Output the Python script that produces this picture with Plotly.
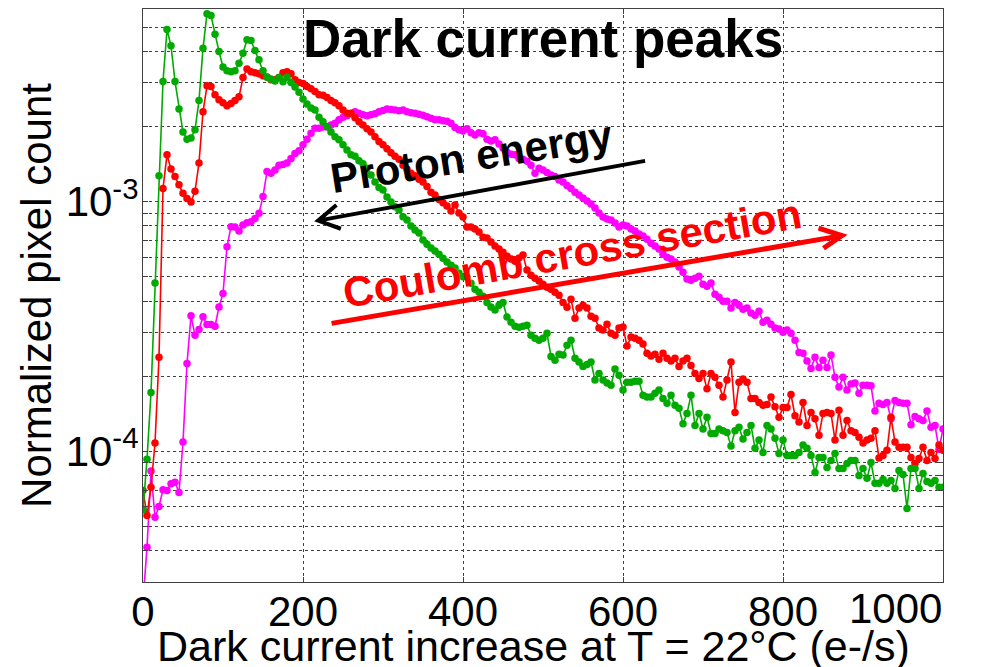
import plotly.graph_objects as go

# Dark current bins (e-/s), one sample every 5 e-/s
x_vals = list(range(0, 1001, 5))

green = [5.84e-5, 9.3e-5, 1.72e-4, 4.72e-4, 1.27e-3, 3.03e-3, 4.89e-3, 4.21e-3, 3.03e-3, 2.35e-3,
         1.90e-3, 1.78e-3, 1.80e-3, 1.94e-3, 2.54e-3, 4.11e-3, 5.66e-3, 5.56e-3, 4.68e-3, 3.99e-3,
         3.46e-3, 3.34e-3, 3.31e-3, 3.34e-3, 3.58e-3, 3.93e-3, 4.45e-3, 4.42e-3, 4.03e-3, 3.70e-3,
         3.34e-3, 3.15e-3, 3.10e-3, 3.04e-3, 3.14e-3, 3.02e-3, 3.15e-3, 3.00e-3, 2.88e-3, 2.74e-3,
         2.58e-3, 2.46e-3, 2.37e-3, 2.33e-3, 2.18e-3, 2.09e-3, 2.00e-3, 1.90e-3, 1.82e-3, 1.77e-3,
         1.69e-3, 1.61e-3, 1.54e-3, 1.52e-3, 1.46e-3, 1.42e-3, 1.36e-3, 1.28e-3, 1.20e-3, 1.14e-3,
         1.114e-3, 1.045e-3, 9.97e-4, 9.55e-4, 9.26e-4, 8.70e-4, 8.44e-4, 7.99e-4, 7.70e-4, 7.49e-4,
         7.02e-4, 6.76e-4, 6.52e-4, 6.34e-4, 6.16e-4, 5.93e-4, 5.73e-4, 5.57e-4, 5.42e-4, 5.17e-4,
         5.00e-4, 4.99e-4, 4.71e-4, 4.46e-4, 4.34e-4, 4.18e-4, 3.95e-4, 3.79e-4, 3.68e-4, 3.85e-4,
         3.95e-4, 3.45e-4, 3.29e-4, 3.17e-4, 3.14e-4, 3.17e-4, 3.20e-4, 2.92e-4, 2.84e-4, 2.79e-4,
         2.84e-4, 2.97e-4, 2.40e-4, 2.32e-4, 2.45e-4, 2.43e-4, 2.66e-4, 2.79e-4, 2.36e-4, 2.28e-4,
         2.19e-4, 2.23e-4, 2.28e-4, 1.93e-4, 2.05e-4, 1.93e-4, 1.88e-4, 1.84e-4, 2.14e-4, 2.02e-4,
         1.76e-4, 1.89e-4, 1.89e-4, 1.91e-4, 1.91e-4, 1.68e-4, 1.65e-4, 1.65e-4, 1.71e-4, 1.76e-4,
         1.63e-4, 1.56e-4, 1.68e-4, 1.53e-4, 1.49e-4, 1.29e-4, 1.42e-4, 1.68e-4, 1.27e-4, 1.42e-4,
         1.23e-4, 1.37e-4, 1.18e-4, 1.18e-4, 1.23e-4, 1.21e-4, 1.19e-4, 1.05e-4, 1.21e-4, 1.25e-4,
         1.12e-4, 1.19e-4, 1.27e-4, 1.03e-4, 1.11e-4, 9.9e-5, 1.27e-4, 1.23e-4, 1.13e-4, 9.8e-5,
         1.11e-4, 9.64e-5, 9.64e-5, 9.64e-5, 9.9e-5, 1.06e-4, 1.03e-4, 9.64e-5, 8.24e-5, 9.46e-5,
         9.46e-5, 8.63e-5, 9.20e-5, 9.82e-5, 8.55e-5, 8.55e-5, 8.95e-5, 9.20e-5, 9.20e-5, 8.01e-5,
         8.55e-5, 7.80e-5, 9.03e-5, 7.45e-5, 7.45e-5, 7.72e-5, 7.45e-5, 7.65e-5, 7.11e-5, 8.39e-5,
         8.08e-5, 5.91e-5, 8.55e-5, 8.55e-5, 7.11e-5, 8.16e-5, 7.58e-5, 7.45e-5, 7.65e-5, 7.18e-5,
         7.18e-5]

red = [6.98e-5, 5.54e-5, 7.18e-5, 1.08e-4, 2.38e-4, 1.13e-3, 1.54e-3, 1.35e-3, 1.26e-3, 1.17e-3,
       1.08e-3, 1.03e-3, 9.97e-4, 1.10e-3, 1.43e-3, 2.29e-3, 2.91e-3, 2.89e-3, 2.68e-3, 2.56e-3,
       2.49e-3, 2.42e-3, 2.47e-3, 2.54e-3, 2.63e-3, 3.14e-3, 3.40e-3, 3.31e-3, 3.28e-3, 3.25e-3,
       3.19e-3, 3.16e-3, 3.08e-3, 3.08e-3, 3.14e-3, 3.28e-3, 3.31e-3, 3.25e-3, 3.08e-3, 3.00e-3,
       2.97e-3, 2.89e-3, 2.83e-3, 2.76e-3, 2.68e-3, 2.67e-3, 2.61e-3, 2.54e-3, 2.49e-3, 2.42e-3,
       2.33e-3, 2.26e-3, 2.26e-3, 2.17e-3, 2.09e-3, 2.03e-3, 1.96e-3, 1.90e-3, 1.82e-3, 1.74e-3,
       1.69e-3, 1.63e-3, 1.57e-3, 1.52e-3, 1.48e-3, 1.40e-3, 1.35e-3, 1.30e-3, 1.27e-3, 1.23e-3,
       1.20e-3, 1.15e-3, 1.09e-3, 1.064e-3, 1.02e-3, 9.9e-4, 9.6e-4, 9.17e-4, 9.70e-4, 9.0e-4,
       8.68e-4, 7.91e-4, 7.91e-4, 7.77e-4, 7.56e-4, 7.21e-4, 7.15e-4, 6.89e-4, 6.64e-4, 6.46e-4,
       6.28e-4, 6.05e-4, 5.89e-4, 5.78e-4, 5.95e-4, 6.11e-4, 5.32e-4, 5.08e-4, 4.94e-4, 4.81e-4,
       4.67e-4, 4.54e-4, 4.46e-4, 4.34e-4, 4.22e-4, 3.95e-4, 3.78e-4, 4.07e-4, 3.41e-4, 3.75e-4,
       3.85e-4, 3.75e-4, 3.48e-4, 3.41e-4, 3.12e-4, 3.06e-4, 3.23e-4, 2.97e-4, 2.92e-4, 3.12e-4,
       3.15e-4, 2.64e-4, 2.87e-4, 2.84e-4, 2.79e-4, 2.69e-4, 2.47e-4, 2.41e-4, 2.45e-4, 2.34e-4,
       2.47e-4, 2.36e-4, 2.30e-4, 2.36e-4, 2.19e-4, 2.30e-4, 2.36e-4, 2.21e-4, 2.05e-4, 1.96e-4,
       2.05e-4, 1.78e-4, 2.05e-4, 1.98e-4, 1.84e-4, 1.65e-4, 1.93e-4, 2.28e-4, 1.43e-4, 1.89e-4,
       1.95e-4, 1.89e-4, 1.63e-4, 1.63e-4, 1.57e-4, 1.53e-4, 1.54e-4, 1.65e-4, 1.51e-4, 1.37e-4,
       1.50e-4, 1.50e-4, 1.69e-4, 1.39e-4, 1.31e-4, 1.57e-4, 1.27e-4, 1.43e-4, 1.35e-4, 1.16e-4,
       1.42e-4, 1.43e-4, 1.42e-4, 1.11e-4, 1.46e-4, 1.16e-4, 1.33e-4, 1.21e-4, 1.19e-4, 1.14e-4,
       1.08e-4, 1.11e-4, 1.13e-4, 1.21e-4, 9.4e-5, 9.64e-5, 1.01e-4, 1.37e-4, 1.09e-4, 1.04e-4,
       1.04e-4, 1.04e-4, 9.46e-5, 8.95e-5, 9.37e-5, 1.04e-4, 9.20e-5, 9.9e-5, 9.37e-5, 1.06e-4,
       1.01e-4]

magenta = [2.5e-5, 4.13e-5, 8.34e-5, 5.45e-5, 6.02e-5, 7.03e-5, 6.98e-5, 7.42e-5, 7.53e-5, 6.85e-5,
           1.09e-4, 2.25e-4, 3.49e-4, 2.92e-4, 3.08e-4, 3.46e-4, 3.22e-4, 3.22e-4, 3.17e-4, 3.79e-4,
           4.29e-4, 6.60e-4, 7.94e-4, 7.91e-4, 7.63e-4, 8.06e-4, 8.23e-4, 8.31e-4, 8.57e-4, 8.98e-4,
           1.05e-3, 1.32e-3, 1.30e-3, 1.34e-3, 1.40e-3, 1.41e-3, 1.43e-3, 1.49e-3, 1.56e-3, 1.60e-3,
           1.69e-3, 1.78e-3, 1.88e-3, 1.97e-3, 1.97e-3, 1.99e-3, 1.99e-3, 2.03e-3, 2.06e-3, 2.13e-3,
           2.18e-3, 2.21e-3, 2.25e-3, 2.29e-3, 2.26e-3, 2.23e-3, 2.21e-3, 2.23e-3, 2.25e-3, 2.29e-3,
           2.32e-3, 2.35e-3, 2.34e-3, 2.33e-3, 2.31e-3, 2.33e-3, 2.29e-3, 2.27e-3, 2.26e-3, 2.24e-3,
           2.22e-3, 2.19e-3, 2.16e-3, 2.13e-3, 2.13e-3, 2.11e-3, 2.10e-3, 2.06e-3, 1.98e-3, 1.94e-3,
           1.92e-3, 1.96e-3, 1.89e-3, 1.85e-3, 1.89e-3, 1.87e-3, 1.78e-3, 1.75e-3, 1.77e-3, 1.70e-3,
           1.64e-3, 1.58e-3, 1.55e-3, 1.54e-3, 1.49e-3, 1.48e-3, 1.45e-3, 1.40e-3, 1.30e-3, 1.36e-3,
           1.34e-3, 1.31e-3, 1.28e-3, 1.26e-3, 1.22e-3, 1.20e-3, 1.16e-3, 1.13e-3, 1.09e-3, 1.064e-3,
           1.035e-3, 1.006e-3, 9.79e-4, 9.43e-4, 9.0e-4, 8.68e-4, 8.52e-4, 8.44e-4, 8.21e-4, 7.91e-4,
           8.06e-4, 7.99e-4, 7.77e-4, 7.63e-4, 7.42e-4, 7.29e-4, 7.08e-4, 6.82e-4, 6.64e-4, 6.46e-4,
           6.16e-4, 5.99e-4, 5.89e-4, 5.73e-4, 5.47e-4, 5.22e-4, 4.90e-4, 4.85e-4, 4.94e-4, 5.03e-4,
           4.67e-4, 4.58e-4, 4.72e-4, 4.26e-4, 4.14e-4, 3.99e-4, 3.99e-4, 3.75e-4, 3.95e-4, 3.85e-4,
           3.71e-4, 3.75e-4, 3.58e-4, 3.51e-4, 3.64e-4, 3.29e-4, 3.35e-4, 3.23e-4, 3.12e-4, 3.09e-4,
           3.00e-4, 3.06e-4, 2.97e-4, 2.79e-4, 2.49e-4, 2.47e-4, 2.30e-4, 2.15e-4, 2.38e-4, 2.17e-4,
           2.32e-4, 2.17e-4, 2.43e-4, 1.98e-4, 1.81e-4, 1.98e-4, 1.76e-4, 1.86e-4, 1.88e-4, 1.71e-4,
           1.84e-4, 1.84e-4, 1.83e-4, 1.45e-4, 1.56e-4, 1.54e-4, 1.57e-4, 1.35e-4, 1.60e-4, 1.57e-4,
           1.56e-4, 1.56e-4, 1.28e-4, 1.38e-4, 1.35e-4, 1.33e-4, 1.45e-4, 1.25e-4, 1.27e-4, 1.02e-4,
           1.23e-4]

x_ticks = [0, 200, 400, 600, 800, 1000]
x_tick_labels = ["0", "200", "400", "600", "800", ""]   # "1000" drawn right-aligned below
y_decades = [1e-4, 1e-3]
y_decade_labels = ["10<sup>-4</sup>", "10<sup>-3</sup>"]
y_grid = [3e-5, 4e-5, 5e-5, 6e-5, 7e-5, 8e-5, 9e-5,
          1e-4, 2e-4, 3e-4, 4e-4, 5e-4, 6e-4, 7e-4, 8e-4, 9e-4,
          1e-3, 2e-3, 3e-3, 4e-3, 5e-3]
y_text = [y_decade_labels[y_decades.index(v)] if v in y_decades else "" for v in y_grid]

FONT = "Liberation Sans, Arial, sans-serif"
GREEN = "rgb(0,170,0)"

fig = go.Figure()
for name, vals, col in [("magenta", magenta, "#ff00ff"),
                        ("red", red, "#ff0000"),
                        ("green", green, GREEN)]:
    fig.add_trace(go.Scatter(x=x_vals, y=vals, mode="lines+markers", name=name,
                             line=dict(color=col, width=1.6),
                             marker=dict(color=col, size=7.5), showlegend=False))

fig.update_layout(
    width=992, height=667,
    margin=dict(l=143, r=49, t=9, b=85, autoexpand=False),
    paper_bgcolor="white", plot_bgcolor="white",
    font=dict(family=FONT, color="black"),
)

fig.update_xaxes(
    range=[0, 1000], tickvals=x_ticks, ticktext=x_tick_labels, automargin=False,
    tickfont=dict(size=42, family=FONT), ticks="inside", ticklen=5, tickcolor="#404040",
    ticklabelstandoff=-8,
    showline=True, linecolor="#404040", linewidth=1.2, mirror="ticks",
    showgrid=True, gridcolor="#404040", gridwidth=1, griddash="dot",
    zeroline=False,
)
fig.update_yaxes(
    type="log", range=[-4.5229, -2.2285], automargin=False,
    tickvals=y_grid, ticktext=y_text,
    tickfont=dict(size=42, family=FONT), ticks="inside", ticklen=5, tickcolor="#404040",
    ticklabelstandoff=-5,
    showline=True, linecolor="#404040", linewidth=1.2, mirror="ticks",
    showgrid=True, gridcolor="#404040", gridwidth=1, griddash="dot",
    zeroline=False,
    title=dict(text="Normalized pixel count", font=dict(size=42, family=FONT), standoff=0),
)

# x-axis title, placed as in the original (close to the bottom edge)
fig.add_annotation(xref="paper", yref="paper", x=0.488, y=-0.1578, xanchor="center", yanchor="bottom",
                   text="Dark current increase at T = 22°C (e-/s)", showarrow=False,
                   font=dict(size=43, family=FONT, color="black"))

# Last x tick label, right-aligned to the plot edge as in the original
fig.add_annotation(xref="paper", yref="paper", x=1.0015, y=0, xanchor="right", yanchor="top",
                   yshift=-1, text=str(x_ticks[-1]), showarrow=False,
                   font=dict(size=42, family=FONT, color="black"))

# Title inside the plot
fig.add_annotation(xref="paper", yref="paper", x=0.5, y=0.9486, xanchor="center", yanchor="middle",
                   text="<b>Dark current peaks</b>", showarrow=False,
                   font=dict(size=53, family=FONT, color="black"))
fig.add_annotation(xref="paper", yref="paper", x=0.4112, y=0.742, xanchor="center", yanchor="middle",
                   text="<b>Proton energy</b>", showarrow=False, textangle=-9,
                   font=dict(size=42, family=FONT, color="black"))
fig.add_annotation(xref="paper", yref="paper", x=0.5357, y=0.5737, xanchor="center", yanchor="middle",
                   text="<b>Coulomb cross section</b>", showarrow=False, textangle=-10,
                   font=dict(size=42, family=FONT, color="#ff0000"))

# Arrows (decorations)
fig.add_shape(type="path", xref="paper", yref="paper",
              path="M 0.6276 0.7349 L 0.2189 0.6307 M 0.2473 0.6165 L 0.2189 0.6307 L 0.2418 0.6579",
              line=dict(color="black", width=4))
fig.add_shape(type="path", xref="paper", yref="paper",
              path="M 0.2357 0.4514 L 0.8737 0.6045 M 0.8444 0.6174 L 0.8737 0.6045 L 0.8506 0.5825",
              line=dict(color="#ff0000", width=5))

fig.write_html("out.html", config={"displayModeBar": False},
               post_script="document.body.style.margin='0';document.body.style.overflow='hidden';")
